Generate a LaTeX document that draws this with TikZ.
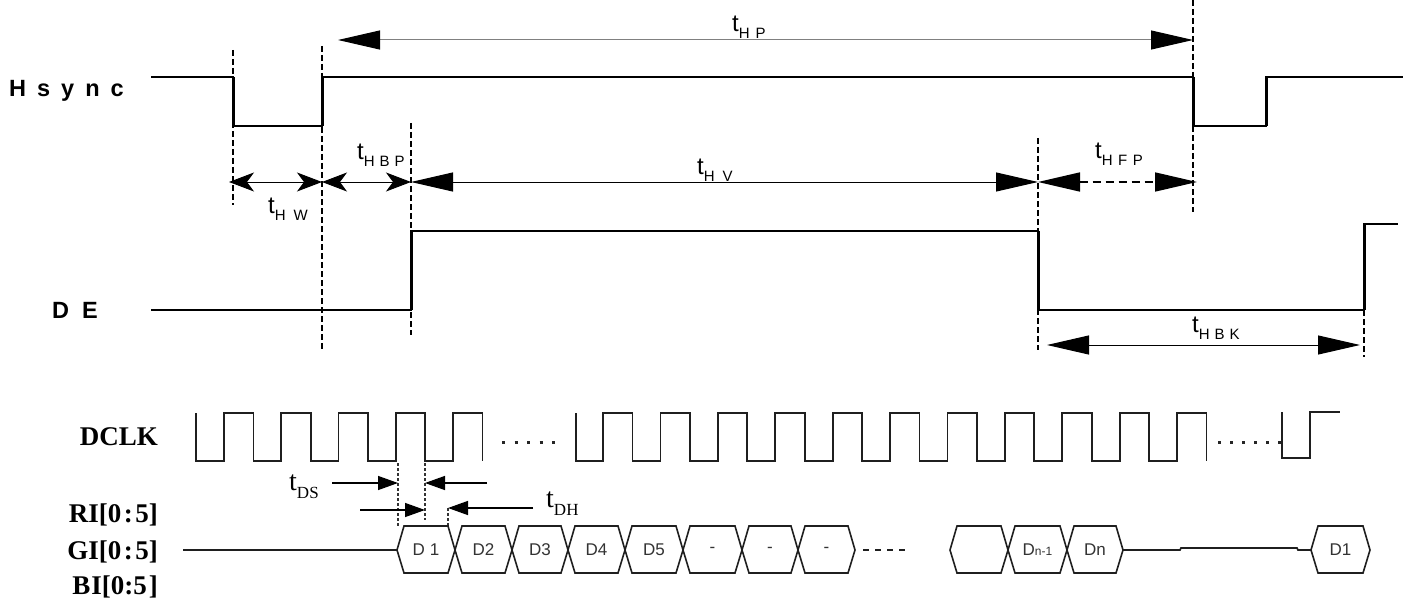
\documentclass[tikz,border=0pt]{standalone}
\usepackage{fontspec}
\setmainfont{Liberation Serif}
\setsansfont{Liberation Sans}
\usetikzlibrary{arrows.meta}
\newcommand{\tlab}[1]{{\fontsize{24}{24}\selectfont t}\raisebox{-7pt}{\fontsize{15}{15}\selectfont #1}}
\newcommand{\dlab}[1]{{\fontsize{28}{28}\selectfont t}\raisebox{-8pt}{\fontsize{17}{17}\selectfont #1}}
\begin{document}
\begin{tikzpicture}[x=1pt,y=-1pt,
  sig/.style={line width=2pt,line join=miter,black},
  edgev/.style={line width=3pt,black},
  guide/.style={line width=1.6pt,dash pattern=on 6pt off 3pt,black},
  dim/.style={line width=1pt,black},
  bigtip/.style={arrows={Triangle[length=42pt,width=19pt,color=black]-Triangle[length=42pt,width=19pt,color=black]}},
  smalltip/.style={arrows={Stealth[length=25pt,width=19pt,inset=7pt]-Stealth[length=25pt,width=19pt,inset=7pt]}},
  lab/.style={inner sep=0pt,font=\sffamily},
  siglab/.style={inner sep=0pt,font=\sffamily\bfseries\fontsize{23.5}{24}\selectfont,anchor=base west},
  serlab/.style={inner sep=0pt,font=\rmfamily\bfseries\fontsize{27}{28}\selectfont,anchor=base east},
  clk/.style={line width=1.8pt,line join=miter,black!88},
  dotted3/.style={line width=3pt,dash pattern=on 3pt off 9.5pt,black!85},
  vdot/.style={line width=2pt,dash pattern=on 2.5pt off 2.5pt,black!80},
  hex/.style={line width=1.6pt,black!88,line join=miter},
  hexlab/.style={inner sep=0pt,font=\sffamily\fontsize{17}{17}\selectfont,text=black!80},
  small/.style={arrows={-Triangle[length=20pt,width=14pt]}},
]
\useasboundingbox[fill=white] (0,0) rectangle (1411,599);

% ---------- signal labels ----------
\node[siglab] (hsync) at (9,97) {H\hspace{11pt}s\hspace{11pt}y\hspace{11pt}n\hspace{11pt}c};
\node[siglab] (de) at (52,318) {D\hspace{13pt}E};

% ---------- Hsync waveform ----------
\draw[sig] (151,77) -- (233,77) -- (233,126) -- (322,126) -- (322,77) -- (1193,77) -- (1193,126) -- (1266,126) -- (1266,77) -- (1403,77);
\draw[edgev] (233,77) -- (233,126) (322,126) -- (322,77) (1193,77) -- (1193,126) (1266,126) -- (1266,77);

% ---------- DE waveform ----------
\draw[sig] (151,310) -- (411,310) -- (411,231) -- (1038,231) -- (1038,310) -- (1364,310) -- (1364,224) -- (1398,224);
\draw[edgev] (411,310) -- (411,231) (1038,231) -- (1038,310) (1364,310) -- (1364,224);

% ---------- guide lines ----------
\coordinate (g1t) at (233,50);   \coordinate (g1b) at (233,205);
\coordinate (g2t) at (322,46);   \coordinate (g2b) at (322,350);
\coordinate (g3t) at (411,123);  \coordinate (g3b) at (411,335);
\coordinate (g4t) at (1038,138); \coordinate (g4b) at (1038,350);
\coordinate (g5t) at (1193,0);   \coordinate (g5b) at (1193,212);
\coordinate (g6t) at (1364,310); \coordinate (g6b) at (1364,357);
\foreach \g in {1,...,6} \draw[guide] (g\g t) -- (g\g b);

% ---------- dimension arrows ----------
\coordinate (hpL) at (338,40); \coordinate (hpR) at (1193,40);
\draw[line width=1pt,gray,bigtip] (hpL) -- (hpR);
\node[lab,anchor=base west] (tHP) at (732,32) {\tlab{H\hspace{6pt}P}};

\coordinate (d0) at (229,182); \coordinate (d1) at (322,182); \coordinate (d2) at (411,182);
\coordinate (d3) at (1038,182); \coordinate (d4) at (1197,182);
\draw[dim,smalltip] (d0) -- (d1);
\draw[dim,smalltip] (d1) -- (d2);
\draw[dim,bigtip] (d2) -- (d3);
\draw[line width=1.6pt,dash pattern=on 8pt off 5pt,bigtip] (d3) -- (d4);
\node[lab,anchor=base west] (tHW) at (268,213) {\tlab{H\hspace{8pt}W}};
\node[lab,anchor=base west] (tHBP) at (357,160) {\tlab{H\hspace{5pt}B\hspace{5pt}P}};
\node[lab,anchor=base west] (tHV) at (697,175) {\tlab{H\hspace{8pt}V}};
\node[lab,anchor=base west] (tHFP) at (1095,158) {\tlab{H\hspace{5.5pt}F\hspace{5.5pt}P}};

\coordinate (bkL) at (1047,345); \coordinate (bkR) at (1360,345);
\draw[dim,bigtip] (bkL) -- (bkR);
\node[lab,anchor=base west] (tHBK) at (1192,332) {\tlab{H\hspace{5pt}B\hspace{5pt}K}};

% ---------- bottom labels ----------
\node[serlab] (dclk) at (158,445) {DCLK};
\node[serlab] (ri) at (158,522) {RI[0\hspace{2.5pt}:\hspace{2.5pt}5]};
\node[serlab] (gi) at (158,559) {GI[0\hspace{2.5pt}:\hspace{2.5pt}5]};
\node[serlab] (bi) at (158,594) {B\hspace{1pt}I[0:5\hspace{2pt}]};

% ---------- DCLK ----------
\draw[clk] (196,413) -- (196,461)
  \foreach \k in {0,...,4} { -- ({224+57.25*\k},461) -- ({224+57.25*\k},413) -- ({253.5+57.25*\k},413) -- ({253.5+57.25*\k},461) };
\draw[dotted3] (502,442) -- (556,442);
\draw[clk] (576,413) -- (576,461)
  \foreach \k in {0,...,10} { -- ({603+57.4*\k},461) -- ({603+57.4*\k},413) -- ({632.5+57.4*\k},413) -- ({632.5+57.4*\k},461) };
\draw[dotted3,dash pattern=on 3pt off 9pt] (1218,442) -- (1281,442);
\draw[clk] (1282,412) -- (1282,458) -- (1310,458) -- (1310,412) -- (1340,412);

% ---------- setup / hold ----------
\draw[vdot] (398,463) -- (398,526);
\draw[vdot] (425,463) -- (425,520);
\draw[vdot] (448,508) -- (448,526);
\coordinate (s1) at (332,483); \coordinate (s2) at (398,483);
\coordinate (s3) at (487,483); \coordinate (s4) at (425,483);
\coordinate (h1) at (360,510); \coordinate (h2) at (425,510);
\coordinate (h3) at (533,508); \coordinate (h4) at (448,508);
\draw[dim,line width=1.4pt,small] (s1) -- (s2);
\draw[dim,line width=1.4pt,small] (s3) -- (s4);
\draw[dim,line width=1.4pt,small] (h1) -- (h2);
\draw[dim,line width=1.4pt,small] (h3) -- (h4);
\node[inner sep=0pt,anchor=base west,font=\rmfamily] (tDS) at (289,490) {\dlab{DS}};
\node[inner sep=0pt,anchor=base west,font=\rmfamily] (tDH) at (546,507) {\dlab{DH}};

% ---------- data bus ----------
\draw[hex] (183,550) -- (397,550);
\foreach \a/\b/\t [count=\i] in {397/455/{D\hspace{5pt}1},455/512/D2,512/568/D3,568/625/D4,625/683/D5,683/742/-,742/798/-,798/855/-,950/1008/{},1008/1067/{D{\fontsize{12}{12}\selectfont n-1}},1067/1123/Dn,1311/1370/D1}{
  \draw[hex] (\a,550) -- (\a+7,526) -- (\b-7,526) -- (\b,550) -- (\b-7,573) -- (\a+7,573) -- cycle;
  \node[hexlab] (cell\i) at ({(\a+\b)/2},550) {\t};
}
\draw[hex,dash pattern=on 6pt off 6pt] (863,550) -- (905,550);
\draw[hex] (1123,550) -- (1180,550) -- (1181,548) -- (1297,548) -- (1298,550) -- (1311,550);
\end{tikzpicture}
\end{document}
